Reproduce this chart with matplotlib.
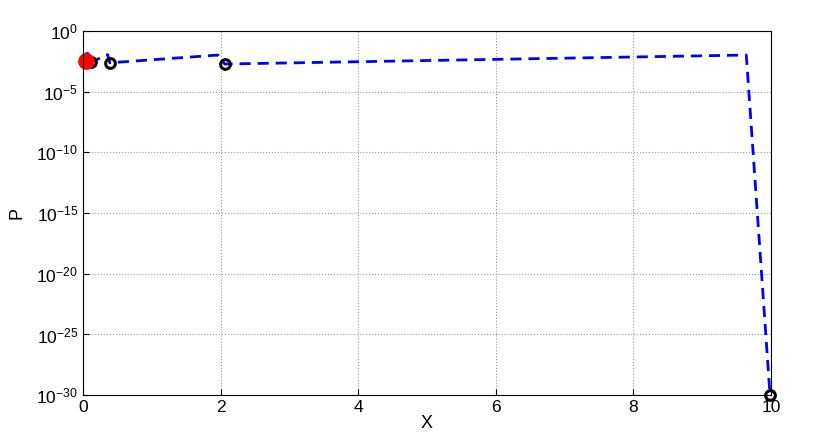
import numpy as np
import matplotlib.pyplot as plt

plt.rcParams['font.family'] = ['Liberation Sans', 'DejaVu Sans']

# path of the blue dashed trace (x, log10 P)
path_x = [0.02, 0.05, 0.10, 0.12, 0.30, 0.34, 0.36, 0.39, 1.96, 2.06, 9.64, 9.985]
path_logp = [-2.5, -1.85, -1.9, -2.55, -2.1, -2.0, -1.95, -2.62, -1.98, -2.72, -1.98, -30.0]

# black circle markers
circ_x = [0.12, 0.39, 2.06, 9.985]
circ_logp = [-2.55, -2.62, -2.72, -30.0]

# red start point
start_x = [0.044]
start_logp = [-2.43]

fig = plt.figure(figsize=(8.3, 4.43), dpi=100)
ax = fig.add_axes([0.1, 0.108, 0.829, 0.822])

ax.semilogy(path_x, 10.0 ** np.array(path_logp), '--', color='blue', lw=2, dashes=(4, 2.5))
ax.semilogy(circ_x, 10.0 ** np.array(circ_logp), 'o', mfc='none', mec='black', mew=2.2, ms=7, clip_on=False)
ax.semilogy(start_x, 10.0 ** np.array(start_logp), 'o', color='red', ms=11, clip_on=False)

ax.set_xlim(0, 10)
ax.set_ylim(1e-30, 1)
ax.set_xticks([0, 2, 4, 6, 8, 10])
ax.set_yticks([10.0 ** k for k in range(-30, 1, 5)])
ax.yaxis.set_minor_locator(plt.NullLocator())
ax.tick_params(direction='in', labelsize=12.5, length=4)
ax.grid(True, linestyle=':', color='#999999', lw=0.8)
ax.set_xlabel('X', fontsize=13, labelpad=0)
ax.set_ylabel('P', fontsize=13, labelpad=8)

fig.savefig('out.png', dpi=100)
